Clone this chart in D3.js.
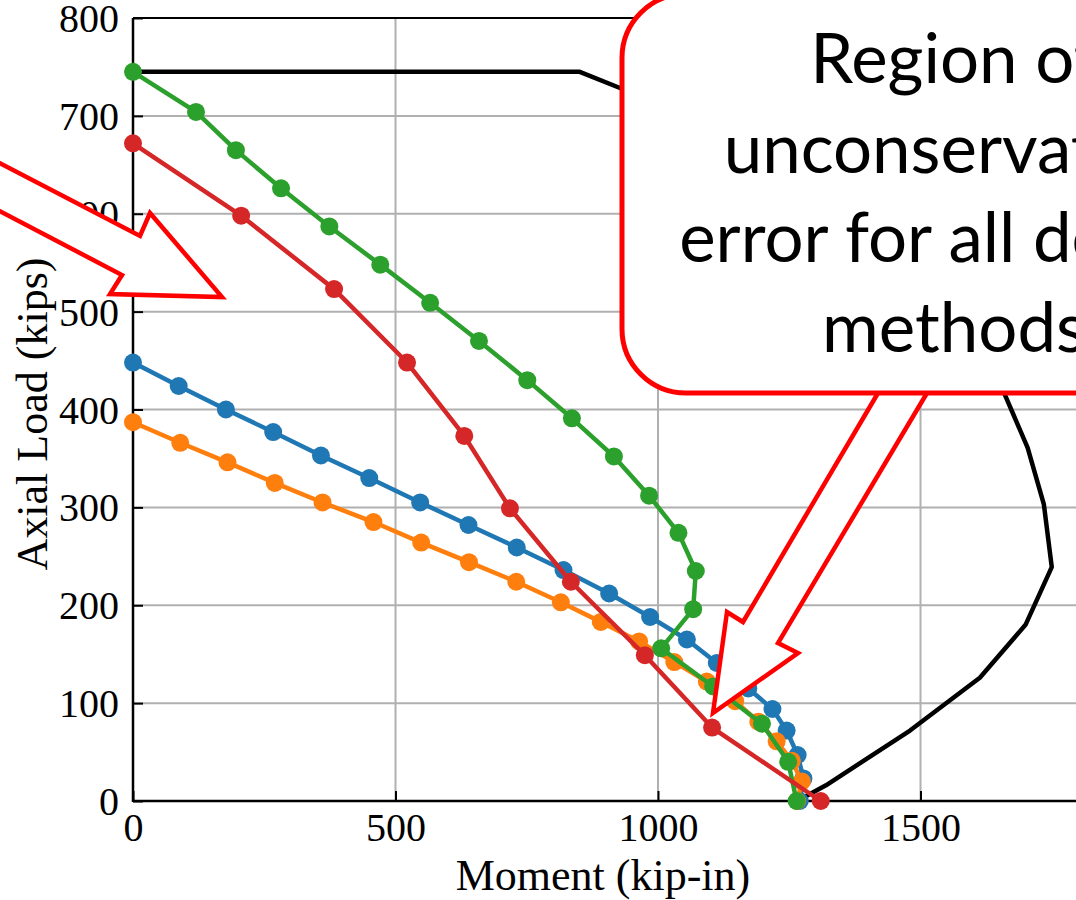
<!DOCTYPE html>
<html>
<head>
<meta charset="utf-8">
<script src="https://cdn.jsdelivr.net/npm/d3@7"></script>
<style>
  html, body { margin: 0; padding: 0; background: #fff; overflow: hidden; }
  svg { display: block; }
</style>
</head>
<body>
<svg id="chart" width="1076" height="900"></svg>
<script>
// interaction diagram data: moment (kip-in) vs axial load (kips)
const nominalM = [0, 851, 930, 1200, 1450, 1660, 1704, 1735, 1750, 1700, 1613, 1480, 1320, 1265];
const nominalP = [745, 745, 728, 640, 530, 416, 361, 303, 239, 180, 126, 72, 16, 0];

const blueM = [0, 87, 177, 267, 358, 450, 547, 639, 731, 820, 907, 985, 1055, 1112, 1172, 1218, 1245, 1266, 1277, 1270];
const blueP = [448, 424, 400, 377, 353, 330, 305, 282, 259, 236, 212, 188, 165, 141, 115, 94, 72, 47, 23, 0];

const orangeM = [0, 90, 180, 270, 361, 458, 549, 640, 730, 815, 891, 964, 1031, 1093, 1147, 1191, 1226, 1255, 1274, 1265];
const orangeP = [387, 366, 346, 325, 305, 285, 264, 244, 224, 203, 183, 163, 142, 122, 102, 81, 61, 41, 20, 0];

const greenM = [0, 120, 196, 282, 374, 471, 566, 659, 751, 836, 916, 983, 1039, 1072, 1067, 1006, 1105, 1198, 1248, 1264];
const greenP = [745, 704, 665, 626, 587, 548, 509, 470, 430, 391, 352, 312, 274, 235, 196, 156, 117, 79, 40, 0];

const redM = [0, 206, 383, 522, 631, 718, 834, 975, 1103, 1310];
const redP = [672, 598, 523, 448, 373, 299, 224, 149, 75, 0];

const xTicks = [0, 500, 1000, 1500];
const xGrid = [500, 1000, 1500, 2000];
const yTicks = [0, 100, 200, 300, 400, 500, 600, 700, 800];

const calloutLines = ['Region of', 'unconservative', 'error for all design', 'methods'];

// small stand-in for d3-selection-multi
d3.selection.prototype.attrs = function (obj) {
  Object.keys(obj).forEach(k => this.attr(k, obj[k]));
  return this;
};

main();

function main () {
  const svg = d3.select('svg#chart');

  const left = 133;
  const top = 18;
  const bottom = 801;
  const x = d3.scaleLinear().domain([0, 2000]).range([left, left + 2000 * 0.525]);
  const y = d3.scaleLinear().domain([0, 800]).range([bottom, top]);
  const right = x(2000);

  const serif = '"Liberation Serif", "Times New Roman", serif';

  // grid
  svg.append('g').selectAll('line').data(xGrid).join('line').attrs({
    x1: d => x(d), x2: d => x(d), y1: top, y2: bottom,
    stroke: '#b0b0b0', 'stroke-width': 2
  });
  svg.append('g').selectAll('line').data(yTicks.filter(d => d > 0 && d < 800)).join('line').attrs({
    x1: left, x2: right, y1: d => y(d), y2: d => y(d),
    stroke: '#b0b0b0', 'stroke-width': 2
  });

  // axes (ticks inside)
  const fmt = d3.format('d');
  const xAxis = svg.append('g').attr('transform', `translate(0,${bottom})`)
    .call(d3.axisBottom(x).tickValues(xTicks).tickFormat(fmt).tickSizeInner(-10).tickSizeOuter(0));
  const yAxis = svg.append('g').attr('transform', `translate(${left},0)`)
    .call(d3.axisLeft(y).tickValues(yTicks).tickFormat(fmt).tickSizeInner(-10).tickSizeOuter(0).tickPadding(14));
  [xAxis, yAxis].forEach(g => {
    g.select('.domain').remove();
    g.selectAll('.tick line').attr('stroke', '#000').attr('stroke-width', 2);
    g.selectAll('.tick text').attr('font-family', serif).attr('font-size', 40).attr('fill', '#000');
  });
  xAxis.selectAll('.tick text').attr('dy', '0.71em').attr('y', 12);
  yAxis.selectAll('.tick text').attr('dy', '0.34em');

  // frame
  svg.append('line').attrs({ x1: left, x2: left, y1: top, y2: bottom + 1, stroke: '#000', 'stroke-width': 2.5 });
  svg.append('line').attrs({ x1: left, x2: right, y1: bottom, y2: bottom, stroke: '#000', 'stroke-width': 2.5 });
  svg.append('line').attrs({ x1: left, x2: right, y1: top, y2: top, stroke: '#000', 'stroke-width': 2 });

  // axis labels
  svg.append('text').text('Moment (kip-in)').attrs({
    x: 603, y: 890, 'text-anchor': 'middle', 'font-family': serif, 'font-size': 44, fill: '#000'
  });
  svg.append('text').text('Axial Load (kips)').attrs({
    transform: 'translate(47,414) rotate(-90)', 'text-anchor': 'middle',
    'font-family': serif, 'font-size': 44, fill: '#000'
  });

  const line = d3.line().x(d => x(d[0])).y(d => y(d[1]));

  // nominal curve
  svg.append('path').datum(d3.zip(nominalM, nominalP)).attrs({
    d: line, fill: 'none', stroke: '#000', 'stroke-width': 4.5, 'stroke-linejoin': 'round'
  });

  const series = [
    { m: blueM, p: blueP, color: '#1f77b4' },
    { m: orangeM, p: orangeP, color: '#ff7f0e' },
    { m: greenM, p: greenP, color: '#2ca02c' },
    { m: redM, p: redP, color: '#d62728' },
  ];
  series.forEach(s => {
    const pts = d3.zip(s.m, s.p);
    const g = svg.append('g');
    g.append('path').datum(pts).attrs({
      d: line, fill: 'none', stroke: s.color, 'stroke-width': 4.5, 'stroke-linejoin': 'round'
    });
    g.selectAll('circle').data(pts).join('circle').attrs({
      cx: d => x(d[0]), cy: d => y(d[1]), r: 9, fill: s.color
    });
  });

  // annotation overlay (block arrows + callout)
  const arrowStyle = { fill: '#fff', stroke: '#ff0000', 'stroke-width': 4.5, 'stroke-linejoin': 'miter' };
  const leftArrow = [[-60, 132], [140, 236], [150, 213], [222, 297], [110, 294], [122, 275], [-60, 180]];
  svg.append('path').attr('d', 'M' + leftArrow.join('L') + 'Z').attrs(arrowStyle);
  const downArrow = [[878, 393], [743, 622], [727, 612], [713, 713], [798, 653], [778, 643], [927, 393]];
  svg.append('path').attr('d', 'M' + downArrow.join('L')).attrs(arrowStyle);

  svg.append('rect').attrs({
    x: 622, y: -6, width: 660, height: 399, rx: 64, ry: 64,
    fill: '#fff', stroke: '#ff0000', 'stroke-width': 5
  });
  svg.append('g').selectAll('text').data(calloutLines).join('text').text(d => d).attrs({
    x: 954, y: (d, i) => 83 + i * 89.7, 'text-anchor': 'middle',
    'font-family': 'Lato, "Open Sans", sans-serif', 'font-size': 69, fill: '#000'
  });
}
</script>
</body>
</html>
